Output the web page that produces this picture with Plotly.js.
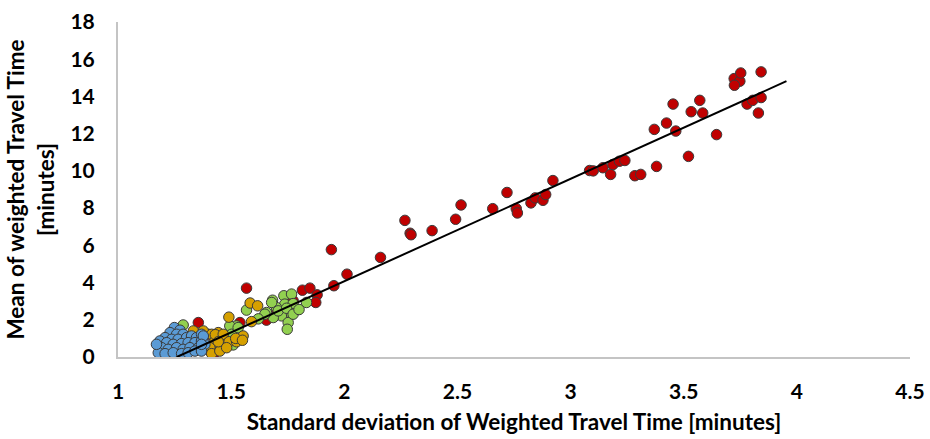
<!DOCTYPE html>
<html>
<head>
<meta charset="utf-8">
<script src="https://cdn.plot.ly/plotly-3.0.1.min.js"></script>
<style>html,body{margin:0;padding:0;background:#fff;}#chart{width:930px;height:439px;}</style>
</head>
<body>
<div id="chart"></div>
<script>
// Red series
const redX = [3.084,3.10,3.143,3.177,3.187,3.216,3.240,3.284,3.310,3.380,3.370,3.424,3.465,3.453,3.521,3.533,3.571,3.584,3.645,3.723,3.748,3.752,3.724,3.780,3.805,3.842,3.842,3.830,
  1.943,1.954,2.012,2.160,2.268,2.291,2.295,2.388,2.492,2.516,2.656,2.719,2.760,2.765,2.825,2.844,2.878,2.890,2.922,
  1.568,1.815,1.848,1.880,1.874,1.774,1.656,1.539,1.355,1.399,1.428,1.406,1.700];
const redY = [10.02,10.00,10.17,9.81,10.34,10.52,10.56,9.74,9.81,10.24,12.23,12.57,12.14,13.59,10.78,13.18,13.79,13.11,11.95,14.96,14.82,15.26,14.60,13.59,13.79,13.94,15.32,13.11,
  5.77,3.83,4.45,5.35,7.34,6.65,6.57,6.79,7.40,8.17,7.97,8.84,7.97,7.74,8.28,8.55,8.42,8.73,9.48,
  3.70,3.59,3.70,3.34,2.93,3.02,1.98,1.85,1.85,1.22,0.23,0.32,2.48];
// Green series
const greenX = [1.288,1.568,1.683,1.733,1.767,1.737,1.774,1.833,1.700,1.723,1.767,1.686,1.752,1.748,1.656,1.524,1.494,1.502,1.531,1.509,1.649,1.679,1.708,1.745,1.774,1.800,1.620,1.460,1.350,1.300];
const greenY = [1.72,2.52,3.05,3.29,3.38,2.84,2.87,2.93,2.66,2.21,2.30,2.12,1.85,1.49,2.39,1.67,1.67,1.22,1.58,0.65,2.30,2.93,2.48,2.62,2.30,2.55,2.05,1.00,0.90,0.30];
// Orange series
const orangeX = [1.333,1.377,1.414,1.443,1.428,1.458,1.406,1.414,1.450,1.584,1.617,1.490,1.430,1.465,1.443,1.491,1.524,1.553,1.590,1.360,1.520,1.480,1.550];
const orangeY = [1.40,1.40,1.22,1.31,0.86,0.77,0.50,0.18,0.32,2.90,2.75,2.14,1.20,1.22,0.82,0.82,0.82,1.13,1.90,1.10,1.00,0.50,0.90];
// Blue series
const blueX = [1.249,1.274,1.230,1.259,1.288,1.208,1.237,1.266,1.303,1.325,1.347,1.369,1.185,1.215,1.244,1.281,1.310,1.340,1.369,1.193,1.222,1.259,1.288,1.318,1.355,1.384,1.178,1.208,1.244,1.281,1.310,1.340,1.170,1.369,1.377,1.369];
const blueY = [1.58,1.44,1.31,1.22,1.22,1.04,0.95,0.95,1.04,1.13,1.04,1.22,0.86,0.77,0.68,0.72,0.77,0.77,0.86,0.50,0.41,0.50,0.41,0.50,0.50,0.68,0.23,0.18,0.23,0.18,0.23,0.32,0.68,0.32,1.13,0.68];
// Trend line endpoints
const trendX = [1.26, 3.954];
const trendY = [0.0, 14.82];

const xTicks = [1, 1.5, 2, 2.5, 3, 3.5, 4, 4.5];
const yTicks = [0, 2, 4, 6, 8, 10, 12, 14, 16, 18];

const FONT = 'Lato, "Liberation Sans", sans-serif';
function series(x, y, fill) {
  return {x: x, y: y, type: 'scatter', mode: 'markers', hoverinfo: 'skip',
    marker: {size: 10.5, color: fill, line: {color: '#3a3a3a', width: 1}}};
}
const data = [
  series(redX, redY, '#C00000'),
  series(greenX, greenY, '#92D050'),
  series(orangeX, orangeY, '#D6A000'),
  series(blueX, blueY, '#5B9BD5'),
  {x: trendX, y: trendY, type: 'scatter', mode: 'lines', hoverinfo: 'skip', line: {color: '#000', width: 2}}
];
const layout = {
  width: 930, height: 439,
  margin: {l: 118, r: 20, t: 22, b: 82},
  paper_bgcolor: '#fff', plot_bgcolor: '#fff',
  showlegend: false,
  font: {family: FONT, color: '#000', size: 21},
  xaxis: {
    range: [1, 4.5], tickvals: xTicks, ticktext: xTicks.map(String),
    showgrid: false, zeroline: false, showline: true, linecolor: '#C4C4C4', linewidth: 2,
    ticks: '', ticklabelstandoff: 15,
    tickfont: {family: FONT, size: 21, color: '#000', weight: 'bold'},
    title: {text: '<b>Standard deviation of Weighted Travel Time [minutes]</b>', font: {family: FONT, size: 22.5, color: '#000'}, standoff: 12}
  },
  yaxis: {
    range: [0, 18], tickvals: yTicks, ticktext: yTicks.map(String),
    showgrid: false, zeroline: false, showline: true, linecolor: '#C4C4C4', linewidth: 2,
    ticks: '', ticklabelstandoff: 17,
    tickfont: {family: FONT, size: 21, color: '#000', weight: 'bold'},
    title: {text: '<b>Mean of weighted Travel Time<br>[minutes]</b>', font: {family: FONT, size: 22.5, color: '#000'}, standoff: 10}
  }
};
Plotly.newPlot('chart', data, layout, {displayModeBar: false, staticPlot: true});
</script>
</body>
</html>
